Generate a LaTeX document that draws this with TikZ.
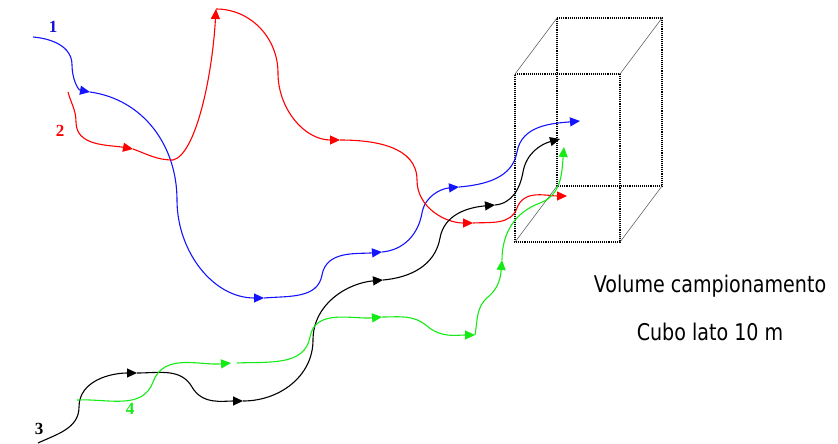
\documentclass[tikz,border=0pt]{standalone}
\usepackage{fontspec}
\setmainfont{Liberation Serif}
\newfontfamily\capfont{DejaVu Sans}
\usetikzlibrary{arrows.meta}

\definecolor{tblue}{RGB}{20,20,255}
\definecolor{tred}{RGB}{255,0,0}
\definecolor{tgreen}{RGB}{20,235,20}
\definecolor{tblack}{RGB}{0,0,0}

\begin{document}
\begin{tikzpicture}[x=1pt,y=1pt,
  traj/.style={line width=1.1pt},
  tip/.style={-{Triangle[length=10pt,width=9pt]}},
  edgedot/.style={line width=1.1pt,dash pattern=on 1.1pt off 1pt},
  edgeline/.style={line width=0.6pt,black!60},
  num/.style={font=\bfseries\fontsize{17}{17}\selectfont,inner sep=0pt},
  caption/.style={font=\capfont\fontsize{23}{23}\selectfont,inner sep=0pt,anchor=base}]
\useasboundingbox (0,0) rectangle (838,-444);

% sampling volume: front and back faces dotted, depth edges solid
\coordinate (f1) at (515,-74);  \coordinate (f2) at (620,-74);
\coordinate (f3) at (620,-242); \coordinate (f4) at (515,-242);
\coordinate (k1c) at (557,-18);  \coordinate (k2c) at (662,-18);
\coordinate (k3c) at (662,-186); \coordinate (k4c) at (557,-186);
\draw[edgedot] (f1) -- (f2) -- (f3) -- (f4) -- cycle;
\draw[edgedot] (k1c) -- (k2c) -- (k3c) -- (k4c) -- cycle;
\draw[edgeline] (f1) -- (k1c) (f2) -- (k2c) (f3) -- (k3c) (f4) -- (k4c);

% trajectory 1 (blue)
\coordinate (b0) at (33,-37);   \coordinate (b1) at (72,-65);
\coordinate (b2) at (90,-92);   \coordinate (b3) at (177,-200);
\coordinate (b4) at (264,-298); \coordinate (b5) at (322,-275);
\coordinate (b6) at (382,-252); \coordinate (b7) at (422,-213);
\coordinate (b8) at (459,-187); \coordinate (b9) at (517,-152);
\coordinate (b10) at (580,-121);
\draw[traj,tblue,tip] (b0) to[out=-5,in=90] (b1) to[out=-90,in=170] (b2);
\draw[traj,tblue,tip] (b2) to[out=-8,in=90] (b3) to[out=-90,in=180] (b4);
\draw[traj,tblue,tip] (b4) to[out=5,in=-100] (b5) to[out=80,in=185] (b6);
\draw[traj,tblue,tip] (b6) to[out=5,in=-100] (b7) to[out=80,in=185] (b8);
\draw[traj,tblue,tip] (b8) to[out=5,in=-100] (b9) to[out=80,in=185] (b10);

% trajectory 2 (red)
\coordinate (r0) at (68,-92);   \coordinate (r1) at (76,-122);
\coordinate (r2) at (133,-149); \coordinate (r3) at (173,-160);
\coordinate (r4) at (216,-9);   \coordinate (r5) at (278,-73);
\coordinate (r6) at (340,-140); \coordinate (r7) at (417,-180);
\coordinate (r8) at (473,-223); \coordinate (r9) at (517,-208);
\coordinate (r10) at (567,-196);
\draw[traj,tred,tip] (r0) to[out=-75,in=90] (r1) to[out=-90,in=170] (r2);
\draw[traj,tred,tip] (r2) to[out=-20,in=180] (r3)
  .. controls (195,-155) and (212,-80) .. (r4);
\draw[traj,tred,tip] (r4) to[out=0,in=90] (r5) to[out=-90,in=180] (r6);
\draw[traj,tred,tip] (r6) to[out=0,in=90] (r7) to[out=-90,in=180] (r8);
\draw[traj,tred,tip] (r8) to[out=3,in=-110] (r9) to[out=70,in=180] (r10);

% trajectory 3 (black)
\coordinate (k0) at (38,-443);  \coordinate (k1) at (79,-407);
\coordinate (k2) at (137,-373); \coordinate (k3) at (192,-387);
\coordinate (k4) at (243,-401); \coordinate (k5) at (313,-340);
\coordinate (k6) at (383,-280); \coordinate (k7) at (440,-238);
\coordinate (k8) at (495,-205); \coordinate (k9) at (523,-172);
\coordinate (k10) at (560,-139);
\draw[traj,tblack,tip] (k0) to[out=25,in=-90] (k1) to[out=90,in=180] (k2);
\draw[traj,tblack,tip] (k2) to[out=0,in=120] (k3) to[out=-60,in=180] (k4);
\draw[traj,tblack,tip] (k4) to[out=0,in=-90] (k5) to[out=90,in=185] (k6);
\draw[traj,tblack,tip] (k6) to[out=5,in=-100] (k7) to[out=80,in=185] (k8);
\draw[traj,tblack,tip] (k8) to[out=5,in=-100] (k9) to[out=80,in=195] (k10);

% trajectory 4 (green)
\coordinate (g0) at (77,-400);  \coordinate (g1) at (153,-382);
\coordinate (g2) at (231,-363); \coordinate (g3) at (237,-363);
\coordinate (g4) at (310,-337); \coordinate (g5) at (382,-317);
\coordinate (g6) at (427,-326); \coordinate (g7) at (475,-335);
\coordinate (g8) at (488,-297); \coordinate (g9) at (502,-260);
\coordinate (g10) at (540,-203); \coordinate (g11) at (564,-147);
\draw[traj,tgreen,tip] (g0) to[out=3,in=-110] (g1) to[out=70,in=185] (g2);
\draw[traj,tgreen,tip] (g3) to[out=3,in=-100] (g4) to[out=80,in=185] (g5);
\draw[traj,tgreen,tip] (g5) to[out=0,in=140] (g6) to[out=-40,in=180] (g7);
\draw[traj,tgreen,tip] (g7) to[out=80,in=220] (g8) to[out=40,in=-95] (g9);
\draw[traj,tgreen,tip] (g9) to[out=90,in=200] (g10) to[out=20,in=-95] (g11);

% trajectory numbers
\node[num,text=tblue!85!black] (n1) at (53,-27) {1};
\node[num,text=tred] (n2) at (60,-131) {2};
\node[num,text=tblack] (n3) at (39,-429) {3};
\node[num,text=tgreen] (n4) at (130,-409) {4};

% caption
\node[caption] (vol) at (710,-292) {\scalebox{0.83}[1]{Volume campionamento}};
\node[caption] (cubo) at (710,-340) {\scalebox{0.83}[1]{Cubo lato 10 m}};
\end{tikzpicture}
\end{document}
